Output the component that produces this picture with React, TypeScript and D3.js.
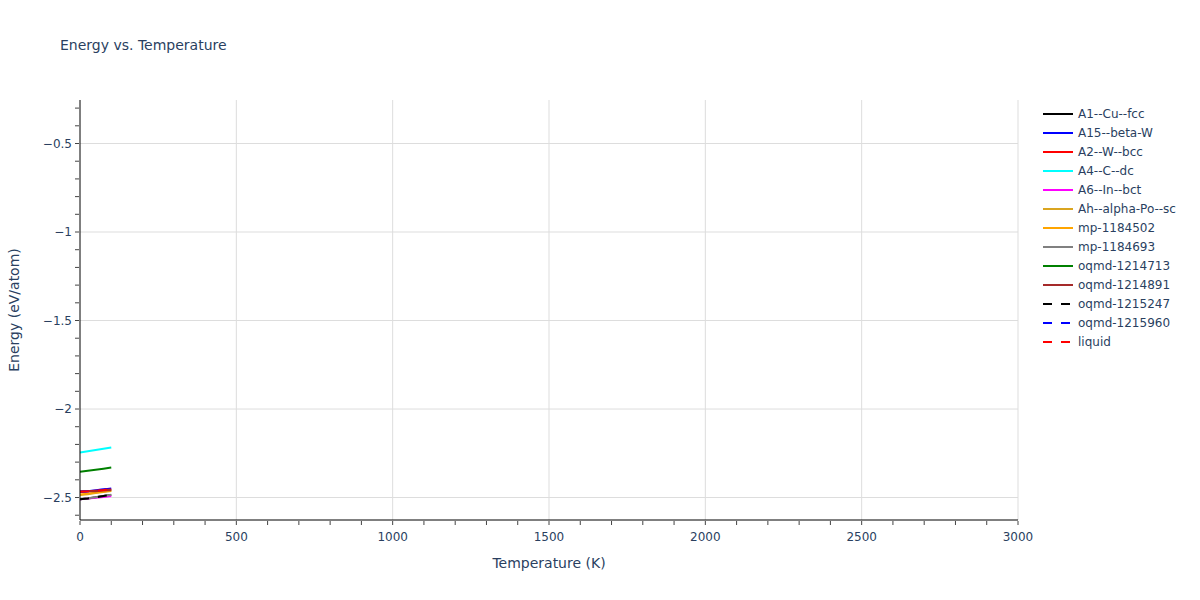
import React from 'react';
import * as d3 from 'd3';

// temperatures sampled for every phase (K)
const temps = [0, 25, 50, 75, 100];

const seriesNames = [
  'A1--Cu--fcc',
  'A15--beta-W',
  'A2--W--bcc',
  'A4--C--dc',
  'A6--In--bct',
  'Ah--alpha-Po--sc',
  'mp-1184502',
  'mp-1184693',
  'oqmd-1214713',
  'oqmd-1214891',
  'oqmd-1215247',
  'oqmd-1215960',
  'liquid',
];

const seriesColors = [
  'black', 'blue', 'red', 'cyan', 'magenta', 'goldenrod', 'orange',
  'grey', 'green', 'brown', 'black', 'blue', 'red',
];

const seriesDashed = [
  false, false, false, false, false, false, false,
  false, false, false, true, true, true,
];

// energies (eV/atom) at each temperature
const A1Cu = [-2.51, -2.505, -2.499, -2.492, -2.485];
const A15W = [-2.468, -2.464, -2.459, -2.454, -2.449];
const A2W = [-2.467, -2.465, -2.462, -2.459, -2.455];
const A4C = [-2.246, -2.239, -2.232, -2.225, -2.218];
const A6In = [-2.51, -2.506, -2.502, -2.497, -2.492];
const AhPo = [-2.486, -2.481, -2.475, -2.469, -2.463];
const mp1184502 = [-2.483, -2.478, -2.472, -2.466, -2.46];
const mp1184693 = [-2.509, -2.504, -2.498, -2.491, -2.485];
const oqmd1214713 = [-2.355, -2.349, -2.343, -2.337, -2.331];
const oqmd1214891 = [-2.466, -2.465, -2.464, -2.461, -2.458];
const oqmd1215247 = [-2.51, -2.505, -2.499, -2.492, -2.485];
const oqmd1215960 = [-2.468, -2.464, -2.459, -2.454, -2.449];
const liquid = [-2.468, -2.465, -2.461, -2.457, -2.452];

const seriesValues = [
  A1Cu, A15W, A2W, A4C, A6In, AhPo, mp1184502, mp1184693,
  oqmd1214713, oqmd1214891, oqmd1215247, oqmd1215960, liquid,
];

const xTicks = [0, 500, 1000, 1500, 2000, 2500, 3000];
const yTicks = [-0.5, -1, -1.5, -2, -2.5];

const W = 1200;
const H = 600;
const margin = { top: 100, right: 182, bottom: 80, left: 80 };
const font = '"DejaVu Sans", Verdana, sans-serif';
const textColor = '#2a3f5f';

const App: React.FC = () => {
  const x = d3.scaleLinear().domain([0, 3000]).range([margin.left, W - margin.right]);
  const y = d3.scaleLinear().domain([-2.627, -0.2542]).range([H - margin.bottom, margin.top]);

  const line = d3
    .line<number>()
    .x((_, i) => x(temps[i]))
    .y(d => y(d));

  const xMinor = d3.range(0, 3001, 100);
  const yMinor = d3.range(-2.6, -0.25, 0.1);
  const fmt = (v: number) => String(v).replace('-', '\u2212');

  const x0 = margin.left;
  const x1 = W - margin.right;
  const y0 = H - margin.bottom;
  const y1 = margin.top;

  return (
    <svg
      width={W}
      height={H}
      style={{ position: 'absolute', left: 0, top: 0, background: 'white' }}
      fontFamily={font}
    >
      <text x={60} y={50} fontSize={14} fill={textColor}>
        Energy vs. Temperature
      </text>

      {/* grid */}
      {xTicks.filter(t => t > 0).map(t => (
        <line key={'gx' + t} x1={x(t)} x2={x(t)} y1={y1} y2={y0} stroke="#dddddd" strokeWidth={1} />
      ))}
      {yTicks.map(t => (
        <line key={'gy' + t} x1={x0} x2={x1} y1={y(t)} y2={y(t)} stroke="#dddddd" strokeWidth={1} />
      ))}

      {/* series */}
      <defs>
        <clipPath id="plotclip">
          <rect x={x0} y={y1} width={x1 - x0} height={y0 - y1} />
        </clipPath>
      </defs>
      <g clipPath="url(#plotclip)">
        {seriesValues.map((vals, i) => (
          <path
            key={seriesNames[i]}
            d={line(vals) || ''}
            fill="none"
            stroke={seriesColors[i]}
            strokeWidth={2}
            strokeDasharray={seriesDashed[i] ? '9,9' : undefined}
          />
        ))}
      </g>

      {/* axes */}
      <line x1={x0} x2={x1} y1={y0} y2={y0} stroke="black" strokeWidth={1} />
      <line x1={x0} x2={x0} y1={y1} y2={y0} stroke="black" strokeWidth={1} />
      {xMinor.map(t => (
        <line key={'xt' + t} x1={x(t)} x2={x(t)} y1={y0 + 1} y2={y0 + 5} stroke="#444" strokeWidth={1} />
      ))}
      {yMinor.map(t => (
        <line key={'yt' + t} x1={x0 - 5} x2={x0 - 1} y1={y(t)} y2={y(t)} stroke="#444" strokeWidth={1} />
      ))}
      {xTicks.map(t => (
        <text key={'xl' + t} x={x(t)} y={y0 + 21} fontSize={12} fill={textColor} textAnchor="middle">
          {t}
        </text>
      ))}
      {yTicks.map(t => (
        <text key={'yl' + t} x={x0 - 8} y={y(t) + 4} fontSize={12} fill={textColor} textAnchor="end">
          {fmt(t)}
        </text>
      ))}

      <text x={(x0 + x1) / 2} y={568} fontSize={14} fill={textColor} textAnchor="middle">
        Temperature (K)
      </text>
      <text
        transform={`translate(19, ${(y0 + y1) / 2}) rotate(-90)`}
        fontSize={14}
        fill={textColor}
        textAnchor="middle"
      >
        Energy (eV/atom)
      </text>

      {/* legend */}
      {seriesNames.map((name, i) => {
        const ly = 114 + i * 19;
        return (
          <g key={'lg' + name}>
            <line
              x1={1043}
              x2={1073}
              y1={ly}
              y2={ly}
              stroke={seriesColors[i]}
              strokeWidth={2}
              strokeDasharray={seriesDashed[i] ? '9,9' : undefined}
            />
            <text x={1078} y={ly + 4} fontSize={12} fill={textColor}>
              {name}
            </text>
          </g>
        );
      })}
    </svg>
  );
};

export default App;
